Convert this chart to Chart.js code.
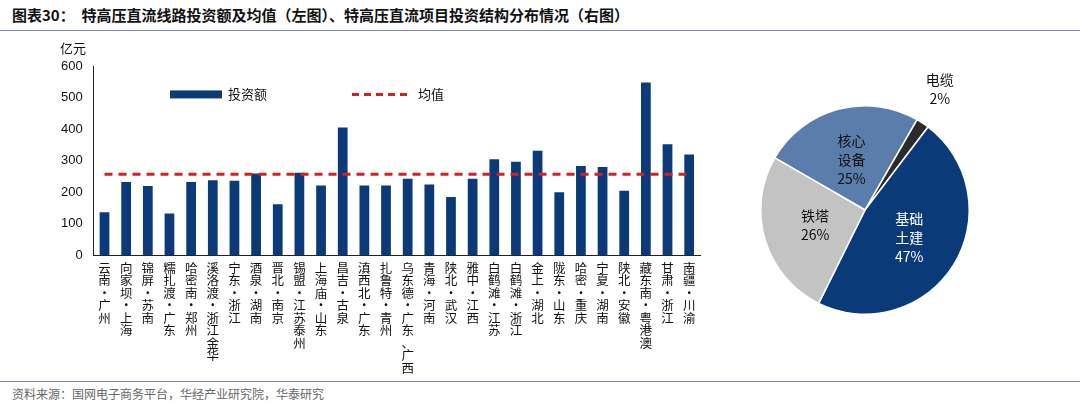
<!DOCTYPE html>
<html lang="zh">
<head>
<meta charset="UTF-8">
<script src="https://cdn.jsdelivr.net/npm/chart.js"></script>
<style>
  body { margin: 0; width: 1080px; height: 410px; background: #fff; font-family: "Noto Sans CJK SC", sans-serif; position: relative; overflow: hidden; }
  #title { position: absolute; left: 12px; top: 4px; font-size: 15px; font-weight: bold; color: #111; }
  #topline { position: absolute; left: 0; top: 30px; width: 1080px; border-top: 1px solid #7a8aa8; }
  #bottomline { position: absolute; left: 0; top: 381px; width: 1080px; border-top: 1px solid #7a8aa8; }
  #source { position: absolute; left: 12px; top: 385px; font-size: 12px; color: #666; }
  #left { position: absolute; left: 58px; top: 40px; width: 652px; height: 340px; }
  #right { position: absolute; left: 740px; top: 60px; width: 250px; height: 300px; }
</style>
</head>
<body>
<div id="title">图表30：&nbsp; 特高压直流线路投资额及均值（左图）、特高压直流项目投资结构分布情况（右图）</div>
<div id="topline"></div>
<div id="left"><canvas id="bar"></canvas></div>
<div id="right"><canvas id="pie"></canvas></div>
<div id="bottomline"></div>
<div id="source">资料来源：国网电子商务平台，华经产业研究院，华泰研究</div>
<script>
// 线路名称
const lines = ['云南|广州','向家坝|上海','锦屏|苏南','糯扎渡|广东','哈密南|郑州','溪洛渡|浙江金华','宁东|浙江','酒泉|湖南',
  '晋北|南京','锡盟|江苏泰州','上海庙|山东','昌吉|古泉','滇西北|广东','扎鲁特|青州','乌东德|广东、广西','青海|河南',
  '陕北|武汉','雅中|江西','白鹤滩|江苏','白鹤滩|浙江','金上|湖北','陇东|山东','哈密|重庆','宁夏|湖南','陕北|安徽',
  '藏东南|粤港澳','甘肃|浙江','南疆|川渝'];
// 投资额（亿元）
const invest = [137,233,220,133,233,238,237,260,162,262,222,405,222,222,243,225,185,243,305,297,332,200,283,280,205,548,352,320];
const yTicks = [0,100,200,300,400,500,600];
// 投资结构
const pieLabels = ['核心设备','电缆','基础土建','铁塔'];
const pieText = [['核心','设备'],['电缆'],['基础','土建'],['铁塔']];
const pieShare = [25,2,47,26];
const pieColors = ['#5b7dab','#2b2b2b','#0b3a78','#c3c3c3'];

const avg = invest.reduce((a, b) => a + b, 0) / invest.length;
const catLabels = lines.map(s => s.split('').map(c => c === '|' ? '·' : c));

const legendPlugin = {
  id: 'legendIn',
  afterDraw(chart) {
    const ctx = chart.ctx;
    const y = chart.scales.y.getPixelForValue(510);
    ctx.save();
    ctx.fillStyle = '#0b3a78';
    ctx.fillRect(112, y - 4, 52, 8);
    ctx.strokeStyle = '#d42020';
    ctx.lineWidth = 3;
    ctx.setLineDash([7, 5]);
    ctx.beginPath(); ctx.moveTo(294, y); ctx.lineTo(352, y); ctx.stroke();
    ctx.fillStyle = '#111';
    ctx.font = '13px "Noto Sans CJK SC"';
    ctx.textBaseline = 'middle';
    ctx.fillText('投资额', 170, y);
    ctx.fillText('均值', 360, y);
    ctx.fillText('亿元', 2, chart.chartArea.top - 18);
    ctx.restore();
  }
};

new Chart(document.getElementById('bar'), {
  type: 'bar',
  data: {
    labels: catLabels,
    datasets: [
      { type: 'line', data: invest.map(() => avg), borderColor: '#d42020', borderWidth: 3, borderDash: [8, 6], pointRadius: 0, order: 0 },
      { data: invest, backgroundColor: '#0b3a78', categoryPercentage: 0.9, barPercentage: 0.5, order: 1 }
    ]
  },
  options: {
    responsive: true, maintainAspectRatio: false, animation: false,
    layout: { padding: { top: 26, right: 10 } },
    plugins: { legend: { display: false }, tooltip: { enabled: false } },
    scales: {
      x: {
        grid: { display: false, drawTicks: false },
        border: { color: '#222' },
        ticks: { color: '#111', font: { size: 12.5, family: 'Noto Sans CJK SC', lineHeight: 1.0 }, maxRotation: 0, autoSkip: false, padding: 6 }
      },
      y: {
        min: 0, max: 600,
        grid: { display: false },
        border: { color: '#222' },
        afterBuildTicks: s => { s.ticks = yTicks.map(v => ({ value: v })); },
        ticks: { color: '#111', font: { size: 13 } }
      }
    }
  },
  plugins: [legendPlugin]
});

const pieLabelPlugin = {
  id: 'pieLabels',
  afterDraw(chart) {
    const ctx = chart.ctx;
    const arcs = chart.getDatasetMeta(0).data;
    ctx.save();
    ctx.font = '14px "Noto Sans CJK SC"';
    ctx.textAlign = 'center';
    ctx.textBaseline = 'middle';
    arcs.forEach((arc, i) => {
      let p = arc.tooltipPosition();
      let lines = pieText[i].concat([pieShare[i] + '%']);
      let color = i === 2 ? '#fff' : '#111';
      if (i === 1) {
        const mid = (arc.startAngle + arc.endAngle) / 2;
        p = { x: arc.x + Math.cos(mid) * 135, y: arc.y + Math.sin(mid) * 135 - 8 };
      }
      ctx.fillStyle = color;
      const h = 19;
      lines.forEach((t, k) => ctx.fillText(t, p.x, p.y + (k - (lines.length - 1) / 2) * h));
    });
    ctx.restore();
  }
};

new Chart(document.getElementById('pie'), {
  type: 'pie',
  data: { labels: pieLabels, datasets: [{ data: pieShare, backgroundColor: pieColors, borderColor: '#fff', borderWidth: 1.5 }] },
  options: {
    responsive: true, maintainAspectRatio: false, animation: false,
    rotation: -60,
    layout: { padding: { top: 45, bottom: 45, left: 20, right: 20 } },
    plugins: { legend: { display: false }, tooltip: { enabled: false } }
  },
  plugins: [pieLabelPlugin]
});
</script>
</body>
</html>
